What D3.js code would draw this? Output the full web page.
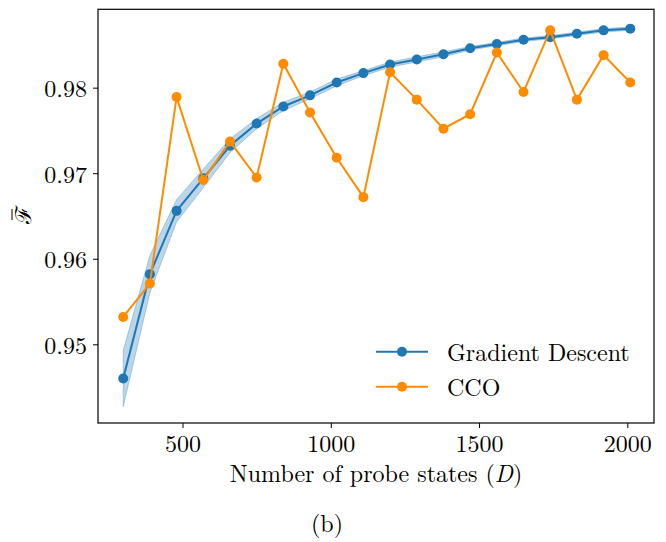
<!DOCTYPE html>
<html>
<head>
<meta charset="utf-8">
<script src="https://cdn.jsdelivr.net/npm/d3@7"></script>
<style>
  body { margin: 0; background: #fff; }
  svg text { font-family: "Latin Modern Roman", "CMU Serif", "Liberation Serif", serif; fill: #000; }
</style>
</head>
<body>
<svg id="chart" width="666" height="542"></svg>
<script>
// number of probe states D
var probeStates = [300, 390, 480, 570, 660, 750, 840, 930, 1020, 1110,
    1200, 1290, 1380, 1470, 1560, 1650, 1740, 1830, 1920, 2010]
// mean fidelity, gradient descent
var gdMean = [0.9460, 0.9582, 0.9656, 0.9694, 0.9732, 0.9758, 0.9778, 0.9791, 0.9806, 0.9817,
    0.9827, 0.9833, 0.9839, 0.9846, 0.9851, 0.9856, 0.9859, 0.9863, 0.9867, 0.9869]
// spread of gradient descent runs
var gdStd = [0.0033, 0.0022, 0.0013, 0.0011, 0.0008, 0.0006, 0.0005, 0.0004, 0.0004, 0.0003,
    0.0003, 0.0003, 0.0003, 0.0002, 0.0002, 0.0002, 0.0002, 0.0002, 0.0002, 0.0002]
// CCO fidelity
var ccoVals = [0.9532, 0.9571, 0.9789, 0.9692, 0.9737, 0.9695, 0.9828, 0.9771, 0.9718, 0.9672,
    0.9818, 0.9786, 0.9752, 0.9769, 0.9841, 0.9795, 0.9867, 0.9786, 0.9838, 0.9806]
var xTicks = [500, 1000, 1500, 2000]
var yTicks = [0.95, 0.96, 0.97, 0.98]

var blue = "#1f77b4"
var orange = "#ff8c00"

var svg = d3.select("#chart")
var plotLeft = 98, plotRight = 654, plotTop = 9.3, plotBottom = 423

var x = d3.scaleLinear().domain([215, 2090]).range([plotLeft, plotRight])
var y = d3.scaleLinear().domain([0.9408, 0.98916]).range([plotBottom, plotTop])

var gd = probeStates.map(function(d, i) {
    return {x: d, y: gdMean[i], lo: gdMean[i] - gdStd[i], hi: gdMean[i] + gdStd[i]}
})
var cco = probeStates.map(function(d, i) {
    return {x: d, y: ccoVals[i]}
})

var plot = svg.append("g")

// spread band
plot.append("path")
    .datum(gd)
    .attr("d", d3.area()
        .x(function(d) { return x(d.x) })
        .y0(function(d) { return y(d.lo) })
        .y1(function(d) { return y(d.hi) }))
    .attr("fill", blue)
    .attr("fill-opacity", 0.3)
    .attr("stroke", blue)
    .attr("stroke-opacity", 0.3)
    .attr("stroke-width", 1)

var line = d3.line()
    .x(function(d) { return x(d.x) })
    .y(function(d) { return y(d.y) })

var series = [
    {name: "Gradient Descent", data: gd, color: blue},
    {name: "CCO", data: cco, color: orange}
]

series.forEach(function(s) {
    plot.append("path")
        .datum(s.data)
        .attr("d", line)
        .attr("fill", "none")
        .attr("stroke", s.color)
        .attr("stroke-width", 2)
    plot.selectAll(null)
        .data(s.data)
        .enter()
        .append("circle")
        .attr("cx", function(d) { return x(d.x) })
        .attr("cy", function(d) { return y(d.y) })
        .attr("r", 5)
        .attr("fill", s.color)
})

// axes
var xAxis = svg.append("g")
    .attr("transform", "translate(0," + plotBottom + ")")
    .call(d3.axisBottom(x).tickValues(xTicks).tickSize(5).tickPadding(5).tickFormat(d3.format("d")))
var yAxis = svg.append("g")
    .attr("transform", "translate(" + plotLeft + ",0)")
    .call(d3.axisLeft(y).tickValues(yTicks).tickSize(5).tickPadding(6).tickFormat(d3.format(".2f")))

;[xAxis, yAxis].forEach(function(a) {
    a.select(".domain").remove()
    a.selectAll(".tick line").attr("stroke", "#000").attr("stroke-width", 1)
    a.selectAll(".tick text").style("font-size", "24px").attr("fill", "#000")
})
xAxis.selectAll(".tick text").attr("y", 29).attr("dy", 0)
yAxis.selectAll(".tick text").attr("dy", "0.37em")

svg.append("rect")
    .attr("x", plotLeft).attr("y", plotTop)
    .attr("width", plotRight - plotLeft).attr("height", plotBottom - plotTop)
    .attr("fill", "none")
    .attr("stroke", "#000")
    .attr("stroke-width", 1.2)

// labels
var xl = svg.append("text")
    .attr("x", (plotLeft + plotRight) / 2)
    .attr("y", 482)
    .attr("text-anchor", "middle")
    .style("font-size", "24px")
xl.append("tspan").text("Number of probe states (")
xl.append("tspan").style("font-style", "italic").text("D")
xl.append("tspan").text(")")

var yl = svg.append("g").attr("transform", "translate(31,215) rotate(-90)")
yl.append("text")
    .attr("text-anchor", "middle")
    .style("font-family", "'DejaVu Serif', serif")
    .style("font-size", "22px")
    .text("\u2131")
yl.append("line")
    .attr("x1", -5).attr("x2", 6)
    .attr("y1", -19).attr("y2", -19)
    .attr("stroke", "#000").attr("stroke-width", 1)

svg.append("text")
    .attr("x", 327)
    .attr("y", 532)
    .attr("text-anchor", "middle")
    .style("font-size", "24px")
    .text("(b)")

// legend
var legend = svg.append("g")
var rows = legend.selectAll("g")
    .data(series)
    .enter()
    .append("g")
    .attr("transform", function(d, i) { return "translate(376," + (351.7 + i * 35) + ")" })
rows.append("line")
    .attr("x1", 0).attr("x2", 52)
    .attr("stroke", function(d) { return d.color })
    .attr("stroke-width", 2)
rows.append("circle")
    .attr("cx", 26).attr("r", 5)
    .attr("fill", function(d) { return d.color })
rows.append("text")
    .attr("x", 71)
    .attr("y", 9)
    .style("font-size", "24px")
    .text(function(d) { return d.name })
</script>
</body>
</html>
